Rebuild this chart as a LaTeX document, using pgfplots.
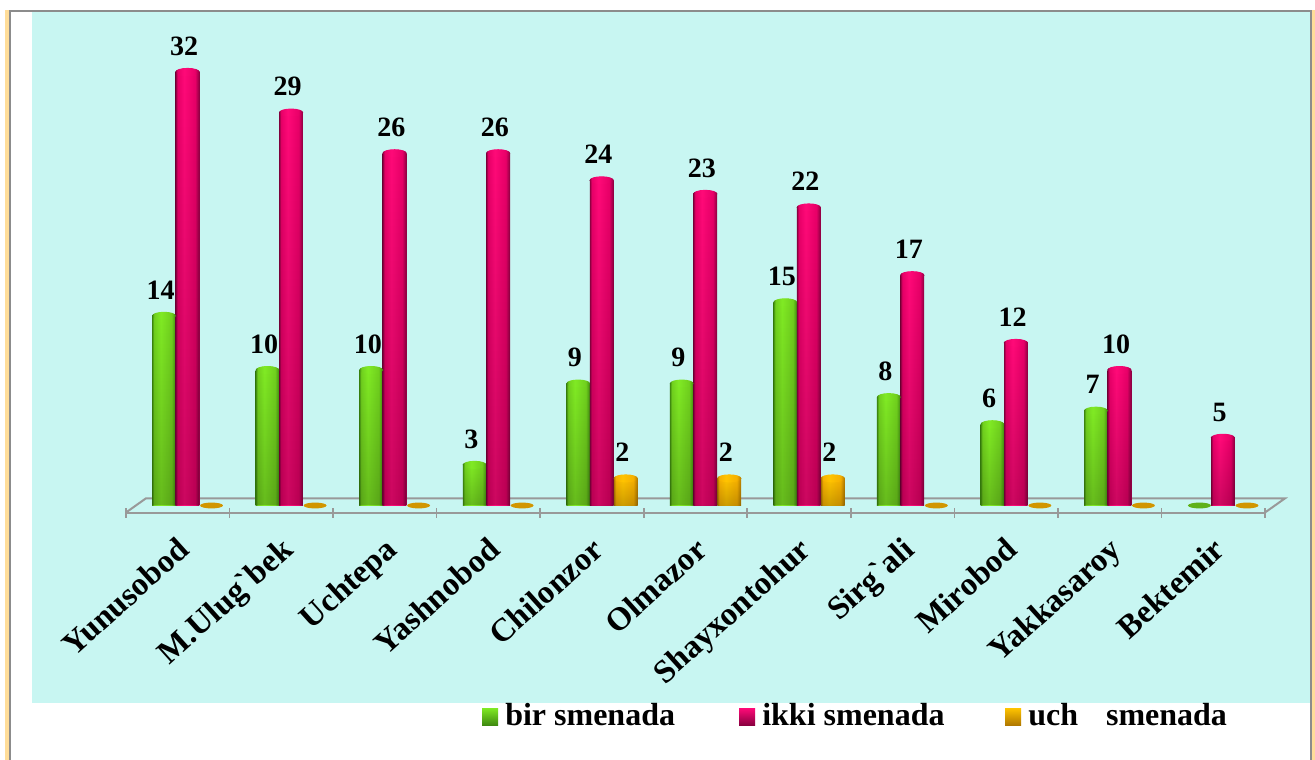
\documentclass[border=0pt]{standalone}
\usepackage{pgfplots}
\pgfplotsset{compat=1.18}
\usepackage{pgfplotstable}
\usepackage{fontspec}
\setmainfont{Liberation Serif}[Ligatures=TeXOff]
\usetikzlibrary{fadings}
% 1 px of the reference = 0.75pt here
\definecolor{panel}{HTML}{C8F6F2}
\definecolor{framegrey}{HTML}{8C8C8C}
\definecolor{floorgrey}{HTML}{999999}
\definecolor{strip}{HTML}{FFDD99}
\definecolor{gbright}{HTML}{80EA24}
\definecolor{gmid}{HTML}{70D01E}
\definecolor{gdark}{HTML}{3F8A10}
\definecolor{rbright}{HTML}{FF0A78}
\definecolor{rmid}{HTML}{E80068}
\definecolor{rdark}{HTML}{8A0040}
\definecolor{obright}{HTML}{FFC400}
\definecolor{omid}{HTML}{F6B000}
\definecolor{odark}{HTML}{B07800}

\pgfdeclarehorizontalshading{gshade}{100bp}{color(0bp)=(gdark); color(25bp)=(gdark); color(29bp)=(gmid); color(43bp)=(gbright); color(66bp)=(gmid); color(75bp)=(gdark); color(100bp)=(gdark)}
\pgfdeclarehorizontalshading{rshade}{100bp}{color(0bp)=(rdark); color(25bp)=(rdark); color(29bp)=(rmid); color(43bp)=(rbright); color(66bp)=(rmid); color(75bp)=(rdark); color(100bp)=(rdark)}
\pgfdeclarehorizontalshading{oshade}{100bp}{color(0bp)=(odark); color(25bp)=(odark); color(29bp)=(omid); color(43bp)=(obright); color(66bp)=(omid); color(75bp)=(odark); color(100bp)=(odark)}
\pgfdeclareplotmark{gfoot}{\pgfpathellipse{\pgfpointorigin}{\pgfqpoint{8.8pt}{0pt}}{\pgfqpoint{0pt}{2.6pt}}\pgfshadepath{gshade}{0}\pgfusepath{discard}}
\pgfdeclareplotmark{rfoot}{\pgfpathellipse{\pgfpointorigin}{\pgfqpoint{9pt}{0pt}}{\pgfqpoint{0pt}{2.6pt}}\pgfshadepath{rshade}{0}\pgfusepath{discard}}
\pgfdeclareplotmark{ofoot}{\pgfpathellipse{\pgfpointorigin}{\pgfqpoint{9pt}{0pt}}{\pgfqpoint{0pt}{2.6pt}}\pgfshadepath{oshade}{0}\pgfusepath{discard}}
\pgfdeclareplotmark{gcap}{\pgfpathellipse{\pgfpointorigin}{\pgfqpoint{8.8pt}{0pt}}{\pgfqpoint{0pt}{3pt}}\pgfshadepath{gshade}{0}\pgfusepath{discard}}
\pgfdeclareplotmark{rcap}{\pgfpathellipse{\pgfpointorigin}{\pgfqpoint{9pt}{0pt}}{\pgfqpoint{0pt}{3pt}}\pgfshadepath{rshade}{0}\pgfusepath{discard}}
\pgfdeclareplotmark{ocap}{\pgfpathellipse{\pgfpointorigin}{\pgfqpoint{9pt}{0pt}}{\pgfqpoint{0pt}{3pt}}\pgfshadepath{oshade}{0}\pgfusepath{discard}}
\pgfdeclareplotmark{disc}{\pgfpathellipse{\pgfpointorigin}{\pgfqpoint{8.6pt}{0pt}}{\pgfqpoint{0pt}{2.2pt}}\pgfusepathqfill}

% value of every district in the three shifts
\pgfplotstableread{
i bir ikki uch
0 14 32 0
1 10 29 0
2 10 26 0
3 3 26 0
4 9 24 2
5 9 23 2
6 15 22 2
7 8 17 0
8 6 12 0
9 7 10 0
10 0 5 0
}\shifts

% one cylinder per district: #1 column, #2 x offset, #3 shading, #4 foot mark, #5 cap mark
\newcommand{\cylinders}[5]{%
  \addplot[only marks, mark=#4, restrict y to domain=0.5:40] table[x expr=\thisrow{i}+#2, y=#1] {\shifts};
  \pgfplotsinvokeforeach{0,...,10}{%
    \addplot[ybar, bar width=17.8pt, bar shift=0pt, draw=none, shade, shading=#3, shading angle=0,
      restrict y to domain=0.5:40, x filter/.expression={abs(x-##1-#2)<0.2 ? x : nan}, nodes near coords]
      table[x expr=\thisrow{i}+#2, y=#1] {\shifts};
    \addplot[ybar, bar width=17.8pt, bar shift=0pt, draw=none, fill=black, fill opacity=0.2, path fading=north,
      restrict y to domain=0.5:40, x filter/.expression={abs(x-##1-#2)<0.2 ? x : nan}]
      table[x expr=\thisrow{i}+#2, y=#1] {\shifts};
  }
  \addplot[only marks, mark=#5, restrict y to domain=0.5:40] table[x expr=\thisrow{i}+#2, y=#1] {\shifts};
}

\begin{document}
\begin{tikzpicture}[x=0.75pt,y=-0.75pt]
\fill[white] (0,0) rectangle (1315,760);
\fill[strip] (5,10) rectangle (9,760);
\fill[strip] (1312,10) rectangle (1315,760);
\fill[panel] (32,12) rectangle (1310,703);
\fill[framegrey] (9,10) rectangle (1312,12);
\fill[framegrey] (9,10) rectangle (11,760);
\fill[framegrey] (1310,10) rectangle (1312,760);

\begin{axis}[
  at={(94.5pt,-384.375pt)}, anchor=south west,
  scale only axis, clip=false,
  width=854.25pt, height=340.6pt,
  xmin=-0.594, xmax=10.406, ymin=-0.517, ymax=33,
  axis x line=bottom, axis y line=none,
  axis line style={floorgrey, line width=1.5pt, -},
  xtick={0,...,10},
  xticklabels={Yunusobod,M.Ulug`bek,Uchtepa,Yashnobod,Chilonzor,Olmazor,Shayxontohur,Sirg`ali,Mirobod,Yakkasaroy,Bektemir},
  major tick length=0pt,
  extra x ticks={-0.594,0.406,1.406,2.406,3.406,4.406,5.406,6.406,7.406,8.406,9.406,10.406},
  extra x tick labels={},
  extra x tick style={major tick length=7.5pt, tick style={floorgrey, line width=1.2pt}},
  xticklabel style={rotate=42, anchor=north east, font=\fontsize{24.5}{26}\bfseries, inner sep=0pt, yshift=-7pt, xshift=-18pt},
  /pgf/number format/assume math mode=true,
  nodes near coords style={font=\fontsize{21}{22}\bfseries, anchor=base, inner sep=0pt, black, yshift=12.5pt, xshift=-2.5pt},
]
% floor of the chart
\draw[floorgrey, line width=1.5pt] (axis cs:-0.594,-0.517) -- (axis cs:-0.401,0.531) -- (axis cs:10.6,0.531) -- (axis cs:10.406,-0.517);

\addplot[only marks, mark=disc, mark options={fill=gmid!85!black, draw=none}, restrict y to domain=-0.5:0.5] table[x expr=\thisrow{i}-0.227, y=bir] {\shifts};
\cylinders{bir}{-0.227}{gshade}{gfoot}{gcap}
\cylinders{ikki}{0}{rshade}{rfoot}{rcap}
\addplot[only marks, mark=disc, mark options={fill=omid!85!black, draw=none}, restrict y to domain=-0.5:0.5] table[x expr=\thisrow{i}+0.232, y=uch] {\shifts};
\cylinders{uch}{0.232}{oshade}{ofoot}{ocap}
\end{axis}

% legend
\foreach \lx/\bright/\dark/\txt in {482/gbright/gdark/bir smenada, 739/rbright/rdark/ikki smenada, 1005/obright/odark/uch\ \ \ \kern3pt smenada}{
  \shade[top color=\bright, bottom color=\dark] (\lx,708) rectangle +(16,17);
  \node[anchor=base west, inner sep=0pt, font=\fontsize{24}{26}\bfseries] at (\lx+23,725.5) {\txt};
}
\end{tikzpicture}
\end{document}
